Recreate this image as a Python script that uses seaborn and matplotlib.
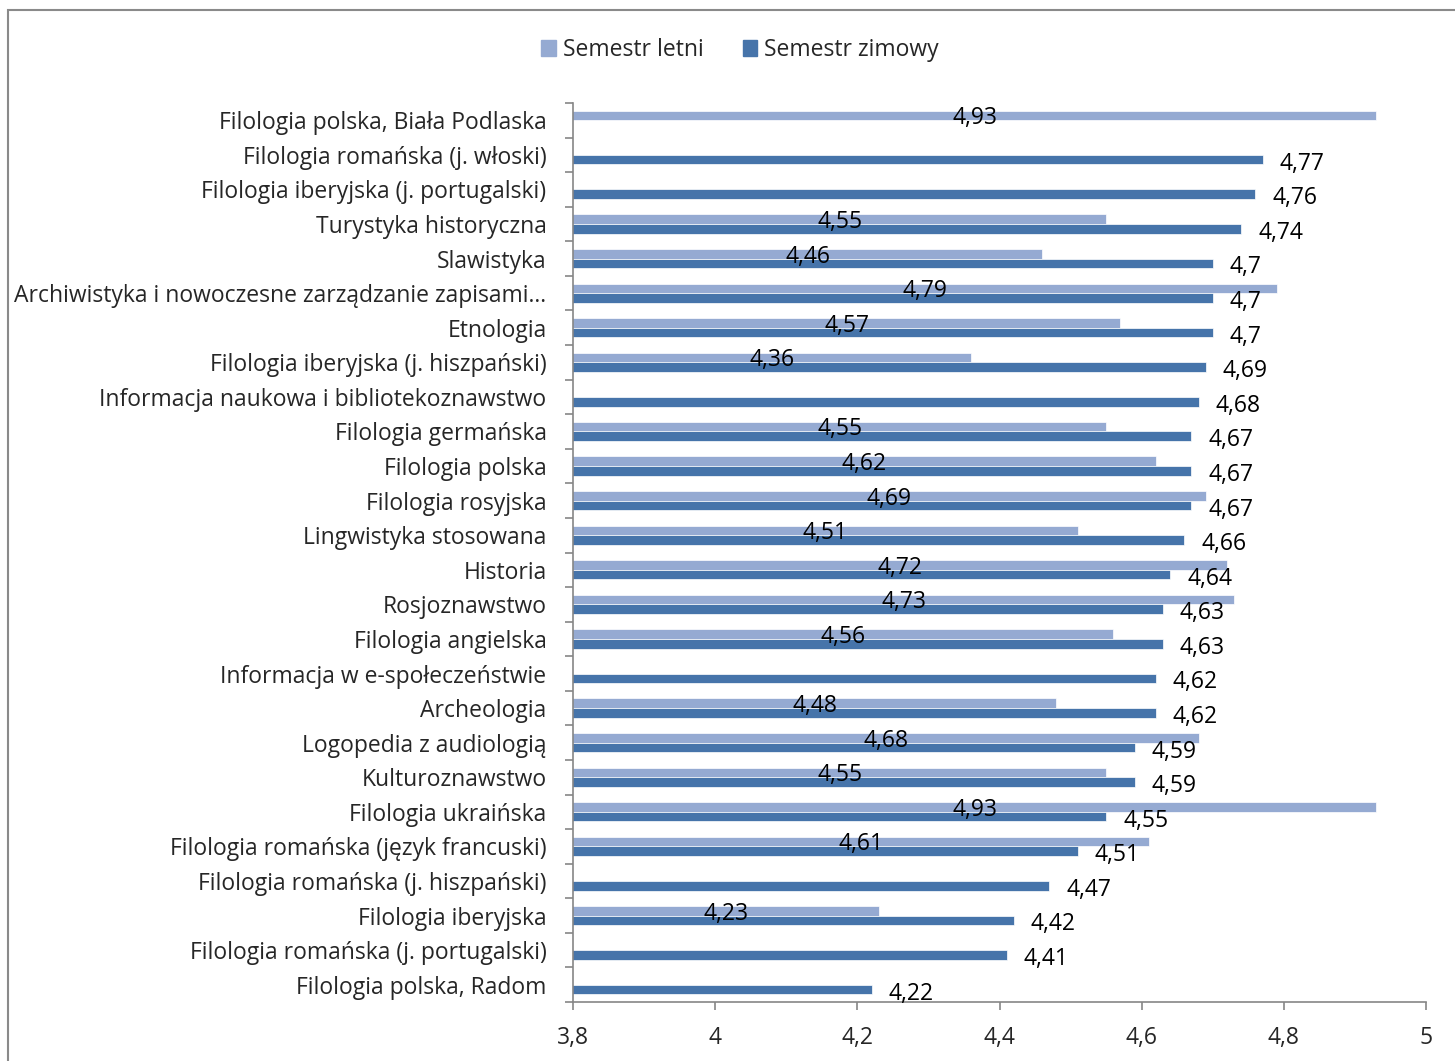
import numpy as np
import pandas as pd
import matplotlib
matplotlib.use("Agg")
import matplotlib.pyplot as plt
import matplotlib.patches as mpatches
import seaborn as sns

kierunki = [
    "Filologia polska, Biała Podlaska",
    "Filologia romańska (j. włoski)",
    "Filologia iberyjska (j. portugalski)",
    "Turystyka historyczna",
    "Slawistyka",
    "Archiwistyka i nowoczesne zarządzanie zapisami…",
    "Etnologia",
    "Filologia iberyjska (j. hiszpański)",
    "Informacja naukowa i bibliotekoznawstwo",
    "Filologia germańska",
    "Filologia polska",
    "Filologia rosyjska",
    "Lingwistyka stosowana",
    "Historia",
    "Rosjoznawstwo",
    "Filologia angielska",
    "Informacja w e-społeczeństwie",
    "Archeologia",
    "Logopedia z audiologią",
    "Kulturoznawstwo",
    "Filologia ukraińska",
    "Filologia romańska (język francuski)",
    "Filologia romańska (j. hiszpański)",
    "Filologia iberyjska",
    "Filologia romańska (j. portugalski)",
    "Filologia polska, Radom",
]
letni = [4.93, None, None, 4.55, 4.46, 4.79, 4.57, 4.36, None, 4.55, 4.62, 4.69, 4.51,
         4.72, 4.73, 4.56, None, 4.48, 4.68, 4.55, 4.93, 4.61, None, 4.23, None, None]
zimowy = [None, 4.77, 4.76, 4.74, 4.7, 4.7, 4.7, 4.69, 4.68, 4.67, 4.67, 4.67, 4.66,
          4.64, 4.63, 4.63, 4.62, 4.62, 4.59, 4.59, 4.55, 4.51, 4.47, 4.42, 4.41, 4.22]
serie = ["Semestr letni", "Semestr zimowy"]
xticks = [3.8, 4.0, 4.2, 4.4, 4.6, 4.8, 5.0]
xlabels = ["3,8", "4", "4,2", "4,4", "4,6", "4,8", "5"]

LIGHT = "#95AAD2"
DARK = "#4674AA"
AXC = "#868686"

rows = []
for k, l, z in zip(kierunki, letni, zimowy):
    if l is not None:
        rows.append((k, serie[0], l))
    if z is not None:
        rows.append((k, serie[1], z))
df = pd.DataFrame(rows, columns=["kierunek", "semestr", "wartosc"])

sns.set_theme(style="white")
plt.rcParams["font.family"] = ["Open Sans", "DejaVu Sans"]

FS = 16.5

fig = plt.figure(figsize=(14.55, 10.61), dpi=100)
ax = fig.add_axes([573 / 1455, 1 - 1002 / 1061, (1426 - 573) / 1455, (1002 - 103) / 1061])

sns.barplot(data=df, y="kierunek", x="wartosc", hue="semestr", order=kierunki,
            hue_order=serie, orient="h", palette=[LIGHT, DARK], width=0.556,
            saturation=1, errorbar=None, legend=False, ax=ax,
            edgecolor="white", linewidth=0.5)

ax.set_xlim(3.8, 5.0)
ax.set_ylim(len(kierunki) - 0.5, -0.5)
ax.set_xlabel("")
ax.set_ylabel("")
ax.set_xticks(xticks)
ax.set_xticklabels(xlabels, fontsize=FS)
ax.set_yticks(range(len(kierunki)))
ax.set_yticklabels(kierunki, fontsize=FS)
ax.set_yticks(np.arange(-0.5, len(kierunki), 1.0), minor=True)
ax.tick_params(axis="y", which="major", length=0, pad=19)
ax.tick_params(axis="y", which="minor", length=6, width=1.2, color=AXC, left=True)
ax.tick_params(axis="x", which="major", length=6, width=1.2, color=AXC, bottom=True, pad=11.5)
for s in ["top", "right"]:
    ax.spines[s].set_visible(False)
for s in ["left", "bottom"]:
    ax.spines[s].set_color(AXC)
    ax.spines[s].set_linewidth(1.2)

for i, (l, z) in enumerate(zip(letni, zimowy)):
    if l is not None:
        ax.text((3.8 + l) / 2, i + 0.116, f"{l:.2f}".replace(".", ","),
                ha="center", va="baseline", fontsize=FS, color="black")
    if z is not None:
        txt = f"{z:g}".replace(".", ",")
        ax.annotate(txt, xy=(z, i + 0.43), xytext=(12.2, 0), textcoords="offset points",
                    ha="left", va="baseline", fontsize=FS, color="black",
                    annotation_clip=False)

handles = [mpatches.Patch(color=LIGHT, label=serie[0]),
           mpatches.Patch(color=DARK, label=serie[1])]
fig.legend(handles=handles, loc="center", bbox_to_anchor=(740 / 1455, 1 - 50 / 1061),
           ncol=2, frameon=False, fontsize=FS, handlelength=0.65, handleheight=0.65,
           handletextpad=0.3, columnspacing=1.7)

border = mpatches.Rectangle((8 / 1455, -0.1), 1.2, 1.1 - 10 / 1061, transform=fig.transFigure,
                            fill=False, edgecolor="#8a8a8a", linewidth=1.5, clip_on=False)
fig.patches.append(border)

fig.savefig("out.png", dpi=100, facecolor="white")
